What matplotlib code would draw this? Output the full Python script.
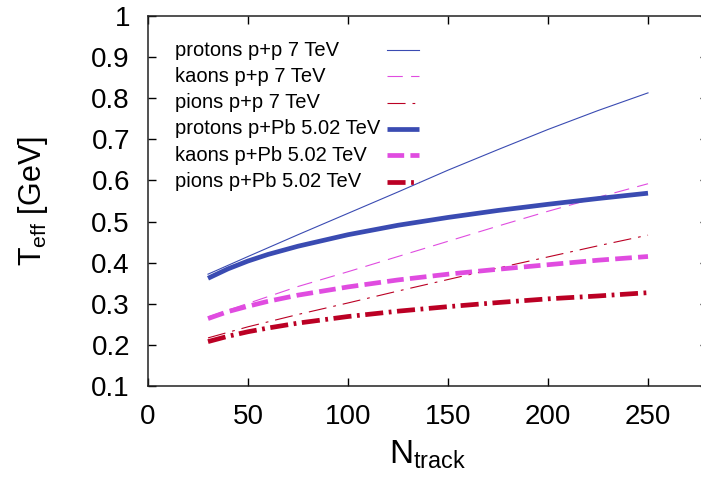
import matplotlib
matplotlib.use("Agg")
import matplotlib.pyplot as plt

plt.rcParams['font.family'] = ['Liberation Sans', 'DejaVu Sans']
plt.rcParams['mathtext.fontset'] = 'custom'
plt.rcParams['mathtext.rm'] = 'Liberation Sans'
plt.rcParams['mathtext.it'] = 'Liberation Sans'
plt.rcParams['lines.scale_dashes'] = False

# Data
n_pp = [30, 50, 75, 100, 125, 150, 175, 200, 225, 250]
protons_pp = [0.372, 0.415, 0.468, 0.520, 0.572, 0.625, 0.675, 0.724, 0.770, 0.813]
kaons_pp = [0.268, 0.301, 0.342, 0.378, 0.415, 0.452, 0.489, 0.525, 0.559, 0.592]
pions_pp = [0.217, 0.244, 0.274, 0.302, 0.331, 0.359, 0.387, 0.414, 0.441, 0.467]

n_ppb = [30, 40, 50, 60, 75, 100, 125, 150, 175, 200, 225, 250]
protons_ppb = [0.362, 0.385, 0.404, 0.420, 0.440, 0.468, 0.491, 0.510, 0.527, 0.542, 0.556, 0.569]
kaons_ppb = [0.264, 0.281, 0.294, 0.306, 0.321, 0.341, 0.358, 0.372, 0.384, 0.395, 0.406, 0.415]
pions_ppb = [0.208, 0.221, 0.232, 0.241, 0.253, 0.269, 0.282, 0.293, 0.303, 0.312, 0.319, 0.327]

labels = ["protons p+p 7 TeV", "kaons p+p 7 TeV", "pions p+p 7 TeV",
          "protons p+Pb 5.02 TeV", "kaons p+Pb 5.02 TeV", "pions p+Pb 5.02 TeV"]
x_ticks = [0, 50, 100, 150, 200, 250]
y_ticks = [0.1, 0.2, 0.3, 0.4, 0.5, 0.6, 0.7, 0.8, 0.9, 1.0]

blue = '#3a4bb2'
magenta = '#e04ce0'
red = '#bb0024'

fig = plt.figure(figsize=(7.01, 4.84), dpi=100)
ax = fig.add_axes([148/701, 98/484, 560/701, 370/484])

thin = 0.8
thick = 3.4
styles = [
    dict(color=blue, lw=thin),
    dict(color=magenta, lw=thin, dashes=(11, 6)),
    dict(color=red, lw=thin, dashes=(13, 5, 2, 5)),
    dict(color=blue, lw=thick, solid_capstyle='butt'),
    dict(color=magenta, lw=thick, dashes=(12, 4.5), dash_capstyle='butt'),
    dict(color=red, lw=thick, dashes=(13, 4, 2, 4), dash_capstyle='butt'),
]
series = [(n_pp, protons_pp), (n_pp, kaons_pp), (n_pp, pions_pp),
          (n_ppb, protons_ppb), (n_ppb, kaons_ppb), (n_ppb, pions_ppb)]

for (xs, ys), st, lab in zip(series, styles, labels):
    ax.plot(xs, ys, label=lab, **st)

# gnuplot-style key: text left-aligned, sample line on the right
row0 = (386 - 50) / 370
drow = 26.3 / 370
for i, (st, lab) in enumerate(zip(styles, labels)):
    yy = row0 - i * drow
    ax.text(0.048, yy, lab, transform=ax.transAxes, ha='left', va='center',
            fontsize=14.5)
    ax.plot([0.4268, 0.4839], [yy, yy], transform=ax.transAxes, **st)

ax.set_xlim(0, 280)
ax.set_ylim(0.1, 1.0)
ax.set_xticks(x_ticks)
ax.set_yticks(y_ticks)
ax.set_xticklabels([str(v) for v in x_ticks])
ax.set_yticklabels(['1' if v == 1.0 else f"{v:.1f}" for v in y_ticks])
ax.tick_params(direction='in', length=6, width=1, top=True, right=True,
               labelsize=20, colors='black')
ax.tick_params(axis='y', pad=13)
ax.tick_params(axis='x', pad=13)
for s in ax.spines.values():
    s.set_linewidth(1.1)
    s.set_color('#222222')

ax.set_xlabel(r'$\mathregular{N_{track}}$', fontsize=24, labelpad=6)
ax.set_ylabel(r'$\mathregular{T_{eff}}$ [GeV]', fontsize=22, labelpad=30)

fig.savefig('out.png', dpi=100)
